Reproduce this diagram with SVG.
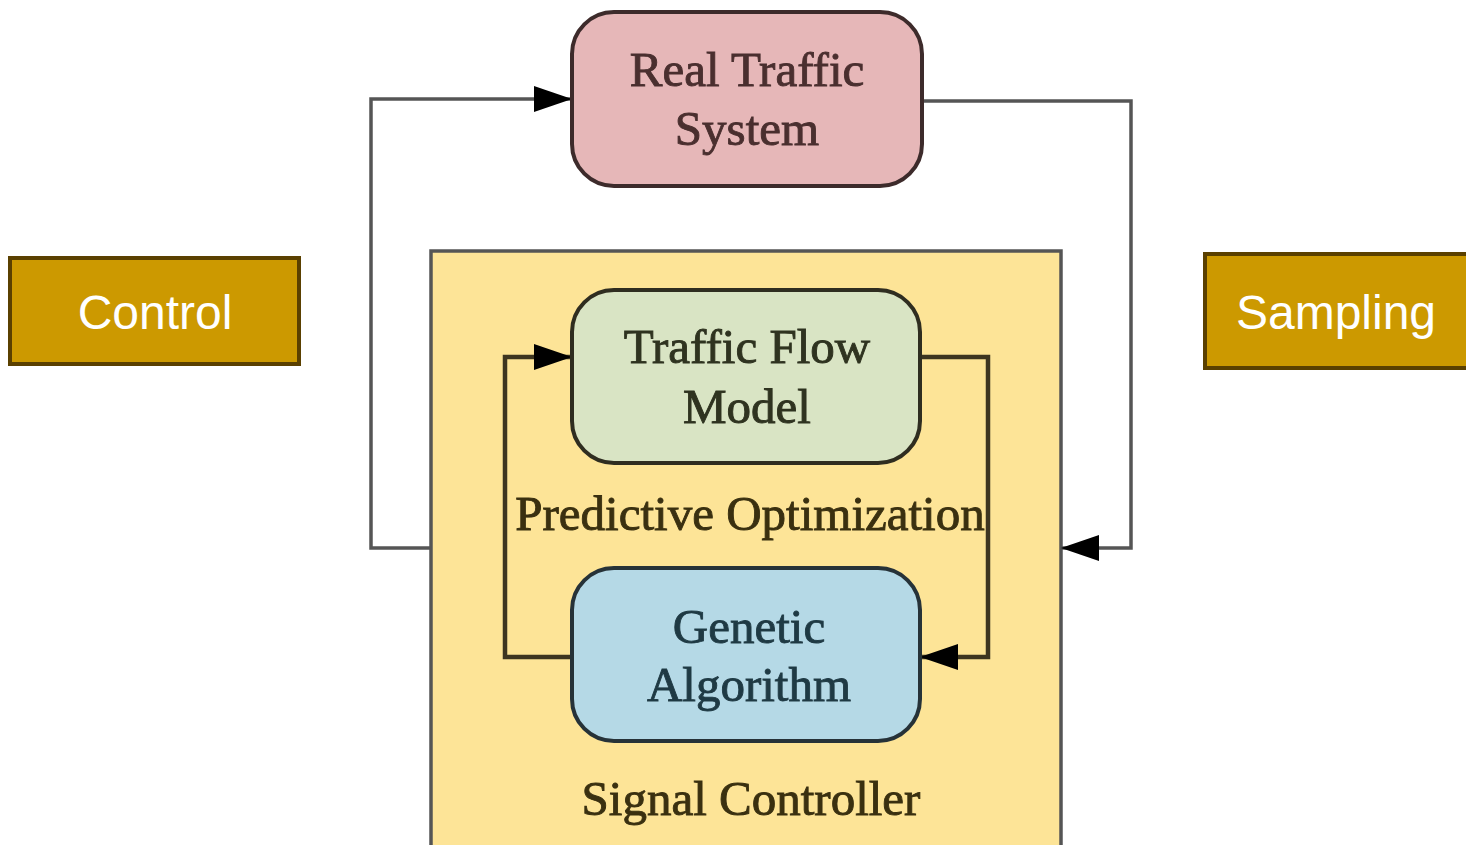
<svg xmlns="http://www.w3.org/2000/svg" width="1466" height="845" viewBox="0 0 1466 845">
  <style>
    .lbl { font-family: "Liberation Serif", "Times New Roman", serif; font-size: 49px; text-anchor: middle; stroke-width: 0.9; }
    .tag { font-family: "Liberation Sans", Arial, sans-serif; font-size: 48px; fill: #ffffff; text-anchor: middle; }
    .tagbox { fill: #cc9900; stroke: #5a4000; stroke-width: 4; }
    .outer { fill: none; stroke: #555555; stroke-width: 3.5; }
    .inner { fill: none; stroke: #3d3520; stroke-width: 4.5; }
  </style>
  <defs>
    <marker id="arrow" markerUnits="userSpaceOnUse" markerWidth="40" markerHeight="30" refX="38" refY="13" orient="auto">
      <path d="M0,0 L38,13 L0,26 Z" fill="#000000"/>
    </marker>
  </defs>
  <rect width="1466" height="845" fill="#ffffff"/>

  <!-- side tags -->
  <g id="control">
    <rect class="tagbox" x="10" y="258" width="289" height="106"/>
    <text class="tag" x="155" y="329">Control</text>
  </g>
  <g id="sampling">
    <rect class="tagbox" x="1205" y="254" width="265" height="114"/>
    <text class="tag" x="1336" y="329">Sampling</text>
  </g>

  <!-- signal controller container -->
  <g id="signal-controller">
    <rect x="431" y="251" width="630" height="600" fill="#fde497" stroke="#555555" stroke-width="3.5"/>
    <text class="lbl" x="751" y="815" fill="#3a3010" stroke="#3a3010">Signal Controller</text>
    <text class="lbl" x="750" y="530" fill="#3a3010" stroke="#3a3010">Predictive Optimization</text>
  </g>

  <!-- connectors -->
  <g id="connectors">
    <polyline class="outer" points="431,548 371,548 371,99 572,99" marker-end="url(#arrow)"/>
    <polyline class="outer" points="922,101 1131,101 1131,548 1061,548" marker-end="url(#arrow)"/>
    <polyline class="inner" points="920,357 988,357 988,657 920,657" marker-end="url(#arrow)"/>
    <polyline class="inner" points="572,657 505,657 505,357 572,357" marker-end="url(#arrow)"/>
  </g>

  <g id="real-traffic-system">
    <rect x="572" y="12" width="350" height="174" rx="42" fill="#e6b7b8" stroke="#3d2b2b" stroke-width="4"/>
    <text class="lbl" x="747" y="86" fill="#4a2f2f" stroke="#4a2f2f">Real Traffic</text>
    <text class="lbl" x="747" y="145" fill="#4a2f2f" stroke="#4a2f2f">System</text>
  </g>

  <g id="traffic-flow-model">
    <rect x="572" y="290" width="348" height="173" rx="42" fill="#d9e4c4" stroke="#2f2d20" stroke-width="4"/>
    <text class="lbl" x="747" y="363" fill="#2f3320" stroke="#2f3320">Traffic Flow</text>
    <text class="lbl" x="747" y="423" fill="#2f3320" stroke="#2f3320">Model</text>
  </g>

  <g id="genetic-algorithm">
    <rect x="572" y="568" width="348" height="173" rx="42" fill="#b5d9e6" stroke="#263238" stroke-width="4"/>
    <text class="lbl" x="749" y="643" fill="#1f3a44" stroke="#1f3a44">Genetic</text>
    <text class="lbl" x="749" y="701" fill="#1f3a44" stroke="#1f3a44">Algorithm</text>
  </g>
</svg>
